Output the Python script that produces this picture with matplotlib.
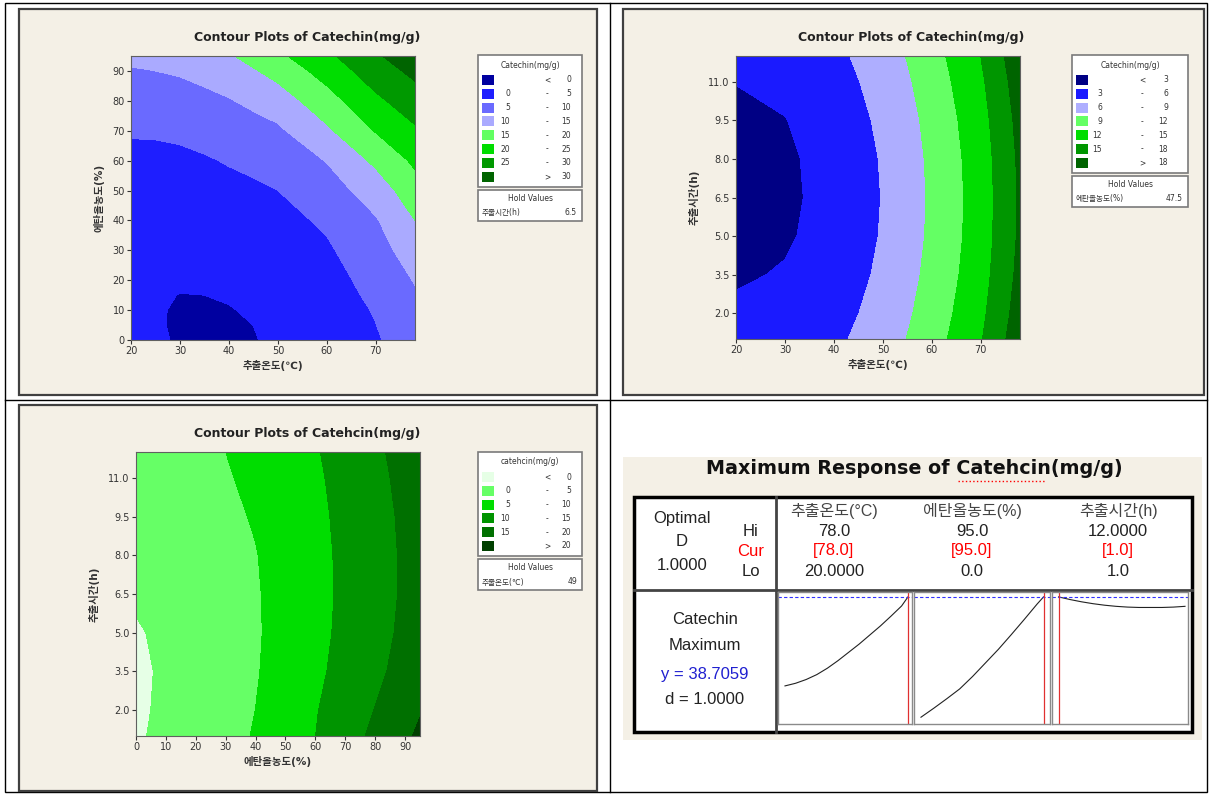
import matplotlib
matplotlib.use("Agg")
import matplotlib.pyplot as plt
from matplotlib.patches import Rectangle
from matplotlib.ticker import FormatStrFormatter

plt.rcParams['font.family'] = ['DejaVu Sans', 'Noto Sans CJK KR']

W, H = 1209, 794
BEIGE = '#f4f0e6'

# ---- panel 1: temperature x ethanol (time held at 6.5 h) ----
temp_p1 = [20, 25, 30, 35, 40, 45, 50, 60, 70, 78]
etoh_p1 = [0, 5, 10, 15, 20, 30, 40, 50, 60, 70, 80, 90, 95]
catechin_p1 = [
    [1.08, 0.30, -0.21, -0.45, -0.42, -0.12, 0.45, 2.3, 4.6, 7.2],
    [0.79, 0.25, -0.33, -0.49, -0.37, 0.01, 0.67, 2.55, 4.95, 7.9],
    [0.68, 0.25, -0.27, -0.34, -0.14, 0.33, 1.07, 2.8, 5.3, 8.6],
    [0.70, 0.30, -0.05, 0.0, 0.25, 0.75, 1.45, 3.15, 5.85, 9.45],
    [0.70, 0.50, 0.35, 0.45, 0.75, 1.20, 2.0, 3.5, 6.4, 10.3],
    [0.7, 0.75, 1.0, 1.15, 1.5, 1.9, 2.5, 4.4, 7.9, 12.6],
    [1.3, 1.45, 1.8, 2.1, 2.6, 3.0, 3.6, 5.7, 9.6, 15.0],
    [2.2, 2.4, 2.8, 3.2, 3.8, 4.3, 5.0, 7.8, 12.3, 17.9],
    [3.6, 3.75, 4.1, 4.6, 5.3, 5.95, 6.8, 10.2, 16.0, 20.9],
    [5.5, 5.55, 5.8, 6.45, 7.3, 8.15, 9.2, 14.2, 20.3, 24.3],
    [7.5, 7.65, 8.0, 8.75, 9.7, 11.0, 12.5, 18.0, 24.0, 27.7],
    [9.7, 10.0, 10.5, 11.45, 12.6, 14.55, 16.7, 22.0, 27.6, 31.2],
    [10.8, 11.25, 11.9, 13.1, 14.5, 16.65, 19.0, 24.0, 29.4, 33.0],
]
levels_p1 = [-5, 0, 5, 10, 15, 20, 25, 30, 40]
colors_p1 = ['#0000a0', '#1e1eff', '#6a6aff', '#aaaaff',
             '#62ff62', '#00dd00', '#009900', '#006400']
legend_p1 = [('', '<', '0'), ('0', '-', '5'), ('5', '-', '10'), ('10', '-', '15'),
             ('15', '-', '20'), ('20', '-', '25'), ('25', '-', '30'), ('', '>', '30')]

# ---- panel 2: temperature x time (ethanol held at 47.5 %) ----
temp_p2 = [20, 25, 30, 35, 40, 50, 60, 70, 78]
time_p2 = [1, 2, 3.5, 5, 6.5, 8, 9.5, 11, 12]
catechin_p2 = [
    [4.33, 4.63, 4.93, 5.15, 5.41, 7.46, 10.71, 14.80, 19.80],
    [3.54, 3.84, 4.14, 4.53, 4.95, 7.01, 10.27, 14.32, 19.32],
    [2.63, 2.93, 3.23, 3.81, 4.43, 6.51, 9.78, 13.79, 18.79],
    [2.05, 2.35, 2.65, 3.37, 4.12, 6.20, 9.49, 13.48, 18.48],
    [1.81, 2.11, 2.41, 3.20, 4.00, 6.10, 9.40, 13.40, 18.40],
    [1.90, 2.20, 2.50, 3.30, 4.09, 6.20, 9.52, 13.54, 18.54],
    [2.32, 2.62, 2.92, 3.67, 4.38, 6.51, 9.83, 13.91, 18.91],
    [3.07, 3.37, 3.67, 4.31, 4.87, 7.01, 10.35, 14.50, 19.50],
    [3.76, 4.06, 4.36, 4.89, 5.31, 7.46, 10.81, 15.02, 20.02],
]
levels_p2 = [-5, 3, 6, 9, 12, 15, 18, 30]
colors_p2 = ['#000084', '#1a1aff', '#aeaeff', '#64ff64',
             '#00dd00', '#009600', '#006400']
legend_p2 = [('', '<', '3'), ('3', '-', '6'), ('6', '-', '9'), ('9', '-', '12'),
             ('12', '-', '15'), ('15', '-', '18'), ('', '>', '18')]

# ---- panel 3: ethanol x time (temperature held at 49 C) ----
etoh_p3 = [0, 10, 20, 30, 40, 50, 60, 70, 80, 90, 95]
time_p3 = [1, 2, 3.5, 5, 6.5, 8, 9.5, 11, 12]
catechin_p3 = [
    [-0.5, 0.91, 2.33, 3.75, 5.28, 7.63, 9.98, 12.97, 16.02, 19.2, 20.8],
    [-0.7, 0.72, 2.15, 3.58, 5.02, 7.37, 9.72, 12.39, 15.12, 18.17, 19.7],
    [-0.8, 0.58, 1.95, 3.32, 4.70, 6.79, 9.08, 11.49, 13.98, 16.6, 18.0],
    [-0.35, 0.71, 2.0, 3.29, 4.57, 6.5, 8.73, 11.04, 13.45, 15.9, 17.2],
    [0.5, 1.54, 2.58, 3.62, 4.66, 6.45, 8.61, 10.85, 13.22, 15.6, 16.9],
    [0.9, 1.89, 2.87, 3.86, 4.84, 6.71, 8.74, 10.89, 13.24, 15.6, 16.9],
    [1.2, 2.19, 3.18, 4.18, 5.31, 7.16, 9.0, 11.07, 13.4, 15.8, 17.0],
    [1.5, 2.54, 3.57, 4.61, 6.03, 7.68, 9.34, 11.4, 13.8, 16.2, 17.5],
    [1.8, 2.87, 3.94, 5.0, 6.56, 8.10, 9.64, 11.8, 14.15, 16.6, 18.0],
]
levels_p3 = [-5, 0, 5, 10, 15, 20, 30]
colors_p3 = ['#e6ffe6', '#66ff66', '#00dd00', '#009400', '#007000', '#004000']
legend_p3 = [('', '<', '0'), ('0', '-', '5'), ('5', '-', '10'), ('10', '-', '15'),
             ('15', '-', '20'), ('', '>', '20')]

# ---- optimizer (maximum response) traces ----
opt_temp = [20, 25, 30, 35, 40, 45, 50, 55, 60, 65, 70, 75, 78]
opt_temp_y = [15.1, 15.8, 16.8, 18.1, 19.8, 21.8, 24.0, 26.2, 28.6, 31.0, 33.6, 36.3, 38.7]
opt_etoh = [0, 10, 20, 30, 40, 50, 60, 70, 80, 90, 95]
opt_etoh_y = [6.8, 9.2, 11.7, 14.3, 17.6, 21.2, 24.8, 28.7, 32.7, 36.8, 38.7]
opt_time = [1, 2, 3, 4, 5, 6, 7, 8, 9, 10, 11, 12]
opt_time_y = [38.7, 38.0, 37.4, 36.9, 36.5, 36.2, 36.0, 35.9, 35.9, 35.9, 36.0, 36.2]
opt_y_max = 38.7059
opt_current = [78.0, 95.0, 1.0]

fig = plt.figure(figsize=(W / 100, H / 100), dpi=100)
fig.patch.set_facecolor('white')

bg = fig.add_axes([0, 0, 1, 1])
bg.set_xlim(0, W)
bg.set_ylim(H, 0)
bg.axis('off')


def px_axes(l, t, r, b):
    return fig.add_axes([l / W, 1 - b / H, (r - l) / W, (b - t) / H])


# table grid + screenshot frames
bg.add_patch(Rectangle((5, 3), 1202, 789, fc='none', ec='black', lw=1))
bg.plot([610, 610], [3, 792], color='black', lw=1)
bg.plot([5, 1207], [400, 400], color='black', lw=1)
for (l, t, r, b) in [(19, 9, 597, 395), (623, 9, 1204, 395), (19, 405, 597, 791)]:
    bg.add_patch(Rectangle((l, t), r - l, b - t, fc=BEIGE, ec='#404040', lw=1.6))
bg.add_patch(Rectangle((623, 457), 579, 283, fc=BEIGE, ec='none'))


def contour_panel(box, x, y, z, levels, colors, xlim, ylim, xticks, yticks,
                  xlabel, ylabel, yfmt=None):
    ax = px_axes(*box)
    ax.contourf(x, y, z, levels=levels, colors=colors)
    ax.set_xlim(*xlim)
    ax.set_ylim(*ylim)
    ax.set_xticks(xticks)
    ax.set_yticks(yticks)
    if yfmt:
        ax.yaxis.set_major_formatter(FormatStrFormatter(yfmt))
    ax.tick_params(direction='out', length=3, width=0.8, labelsize=7,
                   colors='#333333', pad=1.5)
    for s in ax.spines.values():
        s.set_color('#606060')
        s.set_linewidth(0.8)
    ax.set_xlabel(xlabel, fontsize=7.5, fontweight='bold', color='#333333', labelpad=3)
    ax.set_ylabel(ylabel, fontsize=7.5, fontweight='bold', color='#333333', labelpad=6)
    return ax


def legend_block(x0, x1, y0, title, rows, colors, cols, hold_name, hold_val):
    step = 13.8
    y1 = y0 + 25 + (len(rows) - 1) * step + 10
    bg.add_patch(Rectangle((x0, y0), x1 - x0, y1 - y0, fc='white', ec='#7a7a7a', lw=1.2))
    bg.text((x0 + x1) / 2, y0 + 10, title, ha='center', va='center', fontsize=5.5, color='#333333')
    for i, ((lo, sep, hi), c) in enumerate(zip(rows, colors)):
        y = y0 + 25 + i * step
        bg.add_patch(Rectangle((x0 + 4, y - 5), 12, 10, fc=c, ec='none'))
        bg.text(cols[0], y, lo, ha='right', va='center', fontsize=5.5, color='#333333')
        bg.text(cols[1], y, sep, ha='center', va='center', fontsize=5.5, color='#333333')
        bg.text(cols[2], y, hi, ha='right', va='center', fontsize=5.5, color='#333333')
    hy0 = y1 + 3
    bg.add_patch(Rectangle((x0, hy0), x1 - x0, 31, fc='white', ec='#7a7a7a', lw=1.2))
    bg.text((x0 + x1) / 2, hy0 + 9, 'Hold Values', ha='center', va='center', fontsize=5.5, color='#333333')
    bg.text(x0 + 4, hy0 + 23, hold_name, ha='left', va='center', fontsize=5.5, color='#333333')
    bg.text(x1 - 5, hy0 + 23, hold_val, ha='right', va='center', fontsize=5.5, color='#333333')


# panel 1
bg.text(307, 37, 'Contour Plots of Catechin(mg/g)', ha='center', va='center',
        fontsize=9, fontweight='bold', color='#222222')
contour_panel((131, 56, 415, 340), temp_p1, etoh_p1, catechin_p1, levels_p1, colors_p1,
              (20, 78), (0, 95), range(20, 80, 10), range(0, 100, 10),
              '추출온도(℃)', '에탄올농도(%)')
legend_block(478, 582, 55, 'Catechin(mg/g)', legend_p1, colors_p1, (510, 547, 571),
             '추출시간(h)', '6.5')

# panel 2
bg.text(911, 37, 'Contour Plots of Catechin(mg/g)', ha='center', va='center',
        fontsize=9, fontweight='bold', color='#222222')
contour_panel((736, 56, 1020, 339), temp_p2, time_p2, catechin_p2, levels_p2, colors_p2,
              (20, 78), (1, 12), range(20, 80, 10), [2.0, 3.5, 5.0, 6.5, 8.0, 9.5, 11.0],
              '추출온도(℃)', '추출시간(h)', '%.1f')
legend_block(1072, 1188, 55, 'Catechin(mg/g)', legend_p2, colors_p2, (1102, 1142, 1168),
             '에탄올농도(%)', '47.5')

# panel 3
bg.text(307, 433, 'Contour Plots of Catehcin(mg/g)', ha='center', va='center',
        fontsize=9, fontweight='bold', color='#222222')
contour_panel((136, 452, 420, 736), etoh_p3, time_p3, catechin_p3, levels_p3, colors_p3,
              (0, 95), (1, 12), range(0, 100, 10), [2.0, 3.5, 5.0, 6.5, 8.0, 9.5, 11.0],
              '에탄올농도(%)', '추출시간(h)', '%.1f')
legend_block(478, 582, 452, 'catehcin(mg/g)', legend_p3, colors_p3, (510, 547, 571),
             '추출온도(℃)', '49')

# ---- maximum response table ----
TF = ['Liberation Sans', 'Noto Sans CJK KR']
bg.text(914, 468, 'Maximum Response of Catehcin(mg/g)', ha='center', va='center',
        fontsize=13.8, fontweight='bold', color='#111111')
bg.plot([958, 1045], [481, 481], color='red', lw=1, ls=':')
bg.add_patch(Rectangle((634, 497), 558, 235, fc='white', ec='black', lw=2.5))
bg.plot([776, 776], [497, 732], color='#444444', lw=2)
bg.plot([634, 1192], [590, 590], color='#444444', lw=2)

for y, s in [(518, 'Optimal'), (541, 'D'), (566, '1.0000')]:
    bg.text(682, y, s, ha='center', va='center', fontsize=12, family=TF, color='#222222')
for y, s, c in [(532, 'Hi', '#222222'), (551, 'Cur', 'red'), (572, 'Lo', '#222222')]:
    bg.text(751, y, s, ha='center', va='center', fontsize=12, family=TF, color=c)

headers = ['추출온도(°C)', '에탄올농도(%)', '추출시간(h)']
hi_vals = ['78.0', '95.0', '12.0000']
cur_vals = ['[78.0]', '[95.0]', '[1.0]']
lo_vals = ['20.0000', '0.0', '1.0']
for x, hd, hv, cv, lv in zip([834, 972, 1118], headers, hi_vals, cur_vals, lo_vals):
    bg.text(x, 511, hd, ha='center', va='center', fontsize=11.5, family=TF, color='#444444')
    bg.text(x, 532, hv, ha='center', va='center', fontsize=12, family=TF, color='#222222')
    bg.text(x, 551, cv, ha='center', va='center', fontsize=12, family=TF, color='red')
    bg.text(x, 572, lv, ha='center', va='center', fontsize=12, family=TF, color='#222222')

for y, s, c in [(619, 'Catechin', '#222222'), (646, 'Maximum', '#222222'),
                (674, 'y = 38.7059', '#2020d0'), (700, 'd = 1.0000', '#222222')]:
    bg.text(705, y, s, ha='center', va='center', fontsize=12, family=TF, color=c)

opt_boxes = [(778, 592, 912, 724), (914, 592, 1050, 724), (1052, 592, 1188, 724)]
opt_xlims = [(16.7, 79.9), (-5.4, 100.0), (0.43, 12.26)]
opt_series = [(opt_temp, opt_temp_y), (opt_etoh, opt_etoh_y), (opt_time, opt_time_y)]
for box, xl, (xs, ys), cur in zip(opt_boxes, opt_xlims, opt_series, opt_current):
    ax = px_axes(*box)
    ax.plot(xs, ys, color='#222222', lw=0.8)
    ax.axhline(opt_y_max, color='#3030ff', lw=0.8, ls=(0, (3, 2)))
    ax.axvline(cur, color='#e03030', lw=0.9)
    ax.set_xlim(*xl)
    ax.set_ylim(5, 40)
    ax.set_xticks([])
    ax.set_yticks([])
    for s in ax.spines.values():
        s.set_color('#8a8a8a')
        s.set_linewidth(1)

fig.savefig('out.png', dpi=100)
